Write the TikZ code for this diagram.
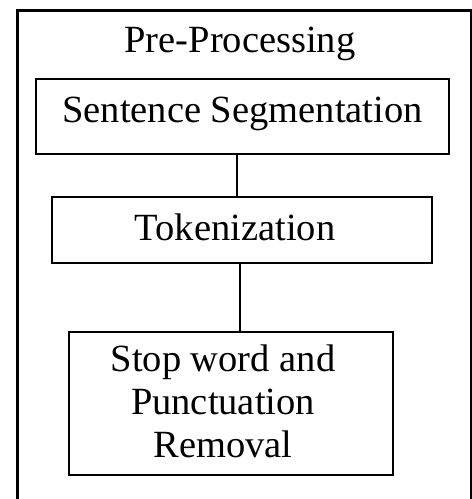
\documentclass[tikz,border=0pt]{standalone}
\usepackage{fontspec}
\setmainfont{Liberation Serif}
\begin{document}
\begin{tikzpicture}[x=1pt,y=-1pt,
  lbl/.style={inner sep=0pt, align=center, font=\fontsize{38.5}{43}\selectfont},
  stepbox/.style={draw=black, line width=2.8pt, inner sep=0pt},
  link/.style={draw=black, line width=2.6pt},
  frame/.style={draw=black, line width=2.6pt, inner sep=0pt, anchor=north west}]
  \useasboundingbox (0,0) rectangle (472,499);
  % outer frame holding the pre-processing stages
  \node[frame, minimum width=454pt, minimum height=520pt] (outer) at (16,9) {};
  \node[lbl, anchor=base] (title) at (240,52) {Pre-Processing};
  % stages
  \node[stepbox, minimum width=413pt, minimum height=75pt] (seg) at (242.5,116.5) {};
  \node[lbl, anchor=base] (seglbl) at (242.5,122) {Sentence Segmentation};
  \node[stepbox, minimum width=380pt, minimum height=66pt] (tok) at (242,230) {};
  \node[lbl, anchor=base] (toklbl) at (235,240) {Tokenization};
  \node[stepbox, minimum width=324pt, minimum height=143pt] (stop) at (231,403.5) {};
  \node[lbl] (stoplbl) at (223,401) {Stop word and\\Punctuation\\Removal};
  % connectors
  \draw[link] ([xshift=-5.5pt]seg.south) -- ([xshift=-5.5pt]seg.south |- tok.north);
  \draw[link] ([xshift=-2pt]tok.south) -- ([xshift=-2pt]tok.south |- stop.north);
\end{tikzpicture}
\end{document}
